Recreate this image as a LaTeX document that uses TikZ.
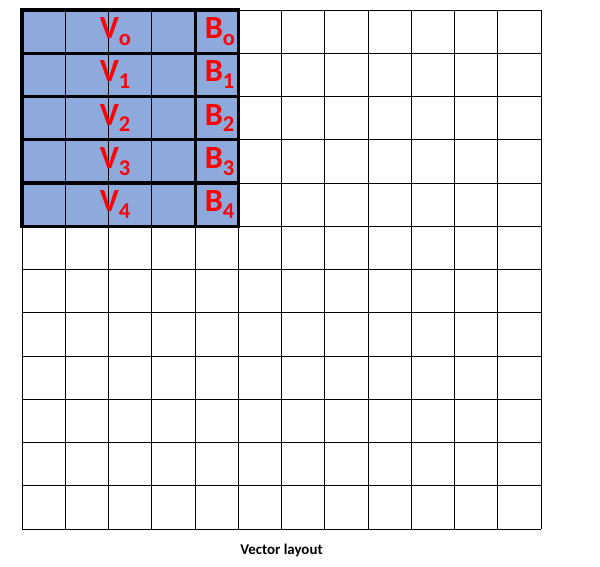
\documentclass[tikz,border=0pt]{standalone}
\usepackage{fontspec}
\setmainfont{Carlito}
\usepackage{tikz}
\definecolor{cellblue}{RGB}{142,169,219}
\definecolor{labelred}{RGB}{255,0,0}
\newcommand{\lowsub}[1]{\raisebox{-4.7pt}{\fontsize{16}{17}\selectfont #1}}

\begin{document}
\begin{tikzpicture}[
      x=0.025cm, y=-0.025cm,
      gridline/.style={black, line width=0.6pt},
      rowbox/.style={draw=black, line width=2.4pt},
      lbl/.style={text=labelred, inner sep=0pt, anchor=base west,
        font=\fontsize{23}{25}\selectfont\bfseries},
      capt/.style={inner sep=0pt, anchor=base,
        font=\fontsize{10.6}{12}\selectfont\bfseries}
    ]
    \useasboundingbox (0,0) rectangle (600,567);
    % blue block
    \fill[cellblue] (22,10) rectangle (238.25,226.25);
    % grid
    \foreach \i in {0,...,12} {
      \draw[gridline] (22+43.25*\i,10) -- (22+43.25*\i,529);
      \draw[gridline] (22,10+43.25*\i) -- (541,10+43.25*\i);
    }
    % vector rows
    \foreach \r/\s in {0/o,1/1,2/2,3/3,4/4} {
      \draw[rowbox] (22,10+43.25*\r) rectangle (195.25,53.25+43.25*\r);
      \draw[rowbox] (195.25,10+43.25*\r) rectangle (238.5,53.25+43.25*\r);
      \node[lbl] (v\r) at (99.5,38.7+43.25*\r) {V\lowsub{\s}};
      \node[lbl] (b\r) at (204.5,38.7+43.25*\r) {B\lowsub{\s}};
    }
    \node[capt] (caption) at (281.5,554) {Vector layout};
  \end{tikzpicture}
\end{document}
